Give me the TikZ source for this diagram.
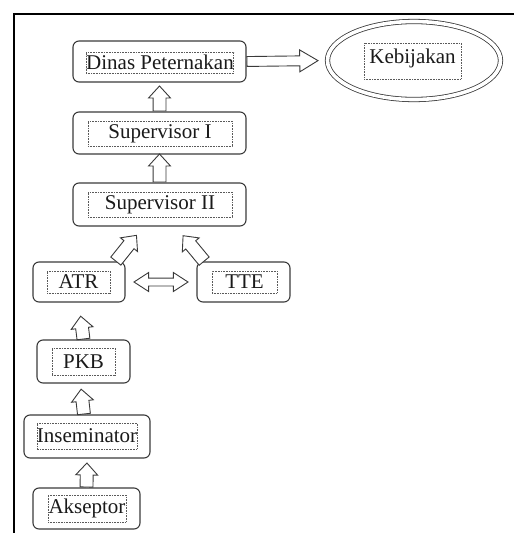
\documentclass[tikz,border=0pt]{standalone}
\usepackage{fontspec}
\setmainfont{Liberation Serif}
\usetikzlibrary{shapes.geometric,shapes.arrows}
\definecolor{boxline}{HTML}{3A3A3A}
\definecolor{dotline}{HTML}{5A5A5A}
\definecolor{ink}{HTML}{1A1A1A}
\begin{document}
    \begin{tikzpicture}[x=1pt,y=-1pt,
            box/.style={draw=boxline, line width=1.1pt, rounded corners=6pt, inner sep=0pt},
            lbl/.style={draw=dotline, dash pattern=on 0.7pt off 0.9pt, line width=0.6pt, inner sep=0pt,
                text=ink, font=\fontsize{21}{24}\selectfont},
            uparr/.style={single arrow, draw=boxline, line width=0.9pt, fill=white, inner xsep=0pt, inner ysep=6pt,
                single arrow head extend=4.5pt, single arrow tip angle=85,
                sloped, allow upside down, pos=0, anchor=tail},
            rarr/.style={single arrow, draw=boxline, line width=0.9pt, fill=white, inner xsep=0pt, inner ysep=4.5pt,
                single arrow head extend=6pt, single arrow tip angle=62,
                minimum height=71pt, sloped, pos=0, anchor=tail},
            darr/.style={double arrow, draw=boxline, line width=0.9pt, fill=white, inner xsep=0pt, inner ysep=3.5pt,
                double arrow head extend=5.5pt, double arrow tip angle=66,
                minimum height=54pt, sloped, midway}]
        \useasboundingbox (0,0) rectangle (514,533);
        \draw[line width=1.2pt] (14,533) -- (14,14) -- (514,14);

        \node[box, minimum width=173pt, minimum height=41pt] (dinas) at (159.5,61.5) {};
        \node[lbl, minimum width=144pt, minimum height=21pt] (dinas-t) at (160,62.5) {Dinas Peternakan};

        \node[box, minimum width=173pt, minimum height=42pt] (sup1) at (159.5,133) {};
        \node[lbl, minimum width=144pt, minimum height=25pt] (sup1-t) at (160,133.5) {Supervisor I};

        \node[box, minimum width=173pt, minimum height=43pt] (sup2) at (159.5,204.5) {};
        \node[lbl, minimum width=144pt, minimum height=25pt] (sup2-t) at (160,204.5) {Supervisor II};

        \node[box, minimum width=92pt, minimum height=40pt] (atr) at (79,282) {};
        \node[lbl, minimum width=63pt, minimum height=22pt] (atr-t) at (78.5,282) {ATR};

        \node[box, minimum width=93pt, minimum height=40pt] (tte) at (243.5,282) {};
        \node[lbl, minimum width=65pt, minimum height=22pt] (tte-t) at (244.5,282) {TTE};

        \node[box, minimum width=93pt, minimum height=43pt] (pkb) at (83.5,361.5) {};
        \node[lbl, minimum width=63pt, minimum height=27pt] (pkb-t) at (83.5,361.5) {PKB};

        \node[box, minimum width=126pt, minimum height=43pt] (ins) at (87,436.5) {};
        \node[lbl, minimum width=96pt, minimum height=26pt] (ins-t) at (87,436) {Inseminator};

        \node[box, minimum width=107pt, minimum height=41pt] (aks) at (86.5,508.5) {};
        \node[lbl, minimum width=78pt, minimum height=27pt] (aks-t) at (87,508.5) {Akseptor};

        \node[ellipse, draw=boxline, line width=0.8pt, double, double distance=3.6pt,
            minimum width=173pt, minimum height=78pt] (keb) at (414,60.5) {};
        \node[lbl, font=\fontsize{21}{24}\selectfont, minimum width=97pt, inner ysep=3pt,
            text height=17pt, text depth=13pt] (keb-t) at (412.5,61) {Kebijakan};

        \path (dinas.east) -- (keb.west) node[rarr] {};
        \path (sup1.north) -- (dinas.south) node[uparr, minimum height=25pt] {};
        \path (sup2.north) -- (sup1.south) node[uparr, minimum height=28pt] {};
        \path ([xshift=-10pt]atr.north east) -- ([xshift=-16pt]sup2.south) node[uparr, minimum height=33pt] {};
        \path ([xshift=8pt]tte.north west) -- ([xshift=16pt]sup2.south) node[uparr, minimum height=33pt] {};
        \path (atr.east) -- (tte.west) node[darr] {};
        \path (pkb.north) -- (atr.south) node[uparr, minimum height=23pt] {};
        \path ([xshift=-3pt]ins.north) -- ([xshift=-3pt]pkb.south) node[uparr, minimum height=25pt] {};
        \path (aks.north) -- (ins.south) node[uparr, minimum height=24pt] {};
    \end{tikzpicture}
\end{document}
